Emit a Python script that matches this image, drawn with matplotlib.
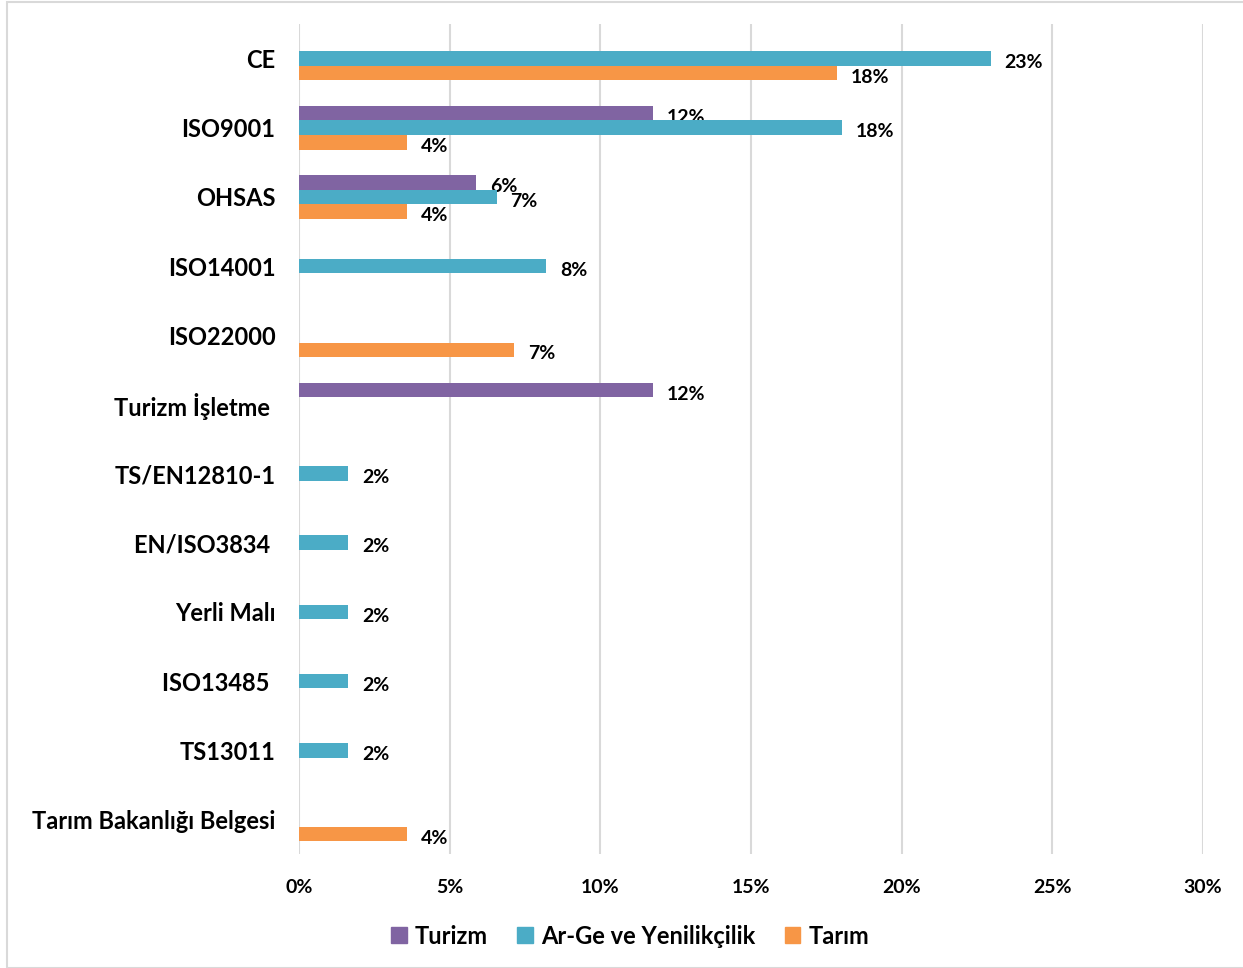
import matplotlib.pyplot as plt
import numpy as np
from matplotlib.patches import Rectangle

plt.rcParams['font.family'] = ['Lato', 'DejaVu Sans']
plt.rcParams['font.weight'] = 'bold'

categories = ["CE", "ISO9001", "OHSAS", "ISO14001", "ISO22000", "Turizm İşletme ",
              "TS/EN12810-1", "EN/ISO3834 ", "Yerli Malı", "ISO13485 ", "TS13011",
              "Tarım Bakanlığı Belgesi"]
series = ["Turizm", "Ar-Ge ve Yenilikçilik", "Tarım"]
turizm = [None, 11.76, 5.88, None, None, 11.76, None, None, None, None, None, None]
arge = [22.95, 18.03, 6.56, 8.20, None, None, 1.64, 1.64, 1.64, 1.64, 1.64, None]
tarim = [17.86, 3.57, 3.57, None, 7.14, None, None, None, None, None, None, 3.57]
colors = ["#8064A2", "#4BACC6", "#F79646"]

fig = plt.figure(figsize=(12.43, 9.68), dpi=100)
fig.patches.append(Rectangle((7 / 1243, 0.0), 1.2, 1 - 1.5 / 968, transform=fig.transFigure,
                             fill=False, edgecolor="#D9D9D9", linewidth=1.5))
ax = fig.add_axes([299 / 1243, 1 - 854 / 968, 904 / 1243, 830 / 968])

y = np.arange(len(categories))
h = 0.21
for i, (vals, col) in enumerate(zip([turizm, arge, tarim], colors)):
    ys = y + (i - 1) * h
    for yy, v in zip(ys, vals):
        if v is None:
            continue
        ax.barh(yy, v, height=h, color=col, zorder=3)
        ax.annotate(f"{round(v):.0f}%", (v, yy), xytext=(10, -3), textcoords="offset points",
                    ha="left", va="center", fontsize=14, fontweight="bold", color="#000000")

ax.set_ylim(len(categories) - 0.5, -0.5)
ax.set_xlim(0, 30)
ax.set_xticks(np.arange(0, 31, 5))
ax.set_xticklabels([f"{t}%" for t in range(0, 31, 5)])
ax.set_yticks(y)
ax.set_yticklabels(categories)
ax.tick_params(axis="x", length=0, pad=18, labelsize=14)
ax.tick_params(axis="y", length=0, pad=17, labelsize=17)
for s in ax.spines.values():
    s.set_visible(False)
ax.grid(axis="x", color="#D9D9D9", linewidth=1.5, zorder=0)

handles = [Rectangle((0, 0), 1, 1, color=c) for c in colors]
fig.legend(handles, series, loc="center", bbox_to_anchor=(0.507, 1 - 936 / 968), ncol=3,
           frameon=False, fontsize=17, handlelength=0.65, handleheight=0.65,
           handletextpad=0.35, columnspacing=1.25)

fig.savefig("out.png", dpi=100)
